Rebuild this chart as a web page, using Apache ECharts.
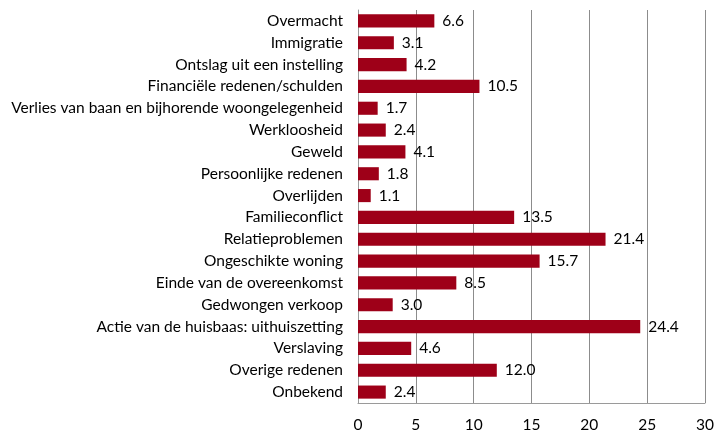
<!DOCTYPE html>
<html>
<head>
<meta charset="utf-8">
<script src="https://cdn.jsdelivr.net/npm/echarts@6/dist/echarts.min.js"></script>
<style>
  html, body { margin: 0; padding: 0; background: #fff; }
  #chart { width: 717px; height: 433px; }
</style>
</head>
<body>
<div id="chart"></div>
<script>
// Reasons, listed top to bottom
const categories = [
  'Overmacht',
  'Immigratie',
  'Ontslag uit een instelling',
  'Financiële redenen/schulden',
  'Verlies van baan en bijhorende woongelegenheid',
  'Werkloosheid',
  'Geweld',
  'Persoonlijke redenen',
  'Overlijden',
  'Familieconflict',
  'Relatieproblemen',
  'Ongeschikte woning',
  'Einde van de overeenkomst',
  'Gedwongen verkoop',
  'Actie van de huisbaas: uithuiszetting',
  'Verslaving',
  'Overige redenen',
  'Onbekend'
];
const values = [6.6, 3.1, 4.2, 10.5, 1.7, 2.4, 4.1, 1.8, 1.1, 13.5, 21.4, 15.7, 8.5, 3.0, 24.4, 4.6, 12.0, 2.4];
const xTicks = [0, 5, 10, 15, 20, 25, 30];

const font = 'Lato, "Open Sans", sans-serif';
const chart = echarts.init(document.getElementById('chart'), null, { renderer: 'canvas' });

chart.setOption({
  animation: false,
  grid: { left: 358, right: 10, top: 10, bottom: 29, containLabel: false },
  xAxis: {
    type: 'value',
    min: xTicks[0],
    max: xTicks[xTicks.length - 1],
    interval: 5,
    axisLine: { show: true, lineStyle: { color: '#9a9a9a', width: 1 } },
    axisTick: { show: false },
    splitLine: { show: true, lineStyle: { color: '#8c8c8c', width: 1 } },
    axisLabel: { color: '#000', fontSize: 15.5, fontFamily: font, margin: 14 }
  },
  yAxis: {
    type: 'category',
    data: categories,
    inverse: true,
    axisLine: { show: true, lineStyle: { color: '#9a9a9a', width: 1 } },
    axisTick: { show: false },
    axisLabel: { color: '#000', fontSize: 15.5, fontFamily: font, margin: 15 }
  },
  series: [{
    type: 'bar',
    data: values,
    barCategoryGap: '40%',
    itemStyle: { color: '#9E0018' },
    label: {
      show: true,
      position: 'right',
      distance: 8,
      color: '#000',
      fontSize: 15.5,
      fontFamily: font,
      formatter: p => p.value.toFixed(1)
    }
  }]
});
</script>
</body>
</html>
